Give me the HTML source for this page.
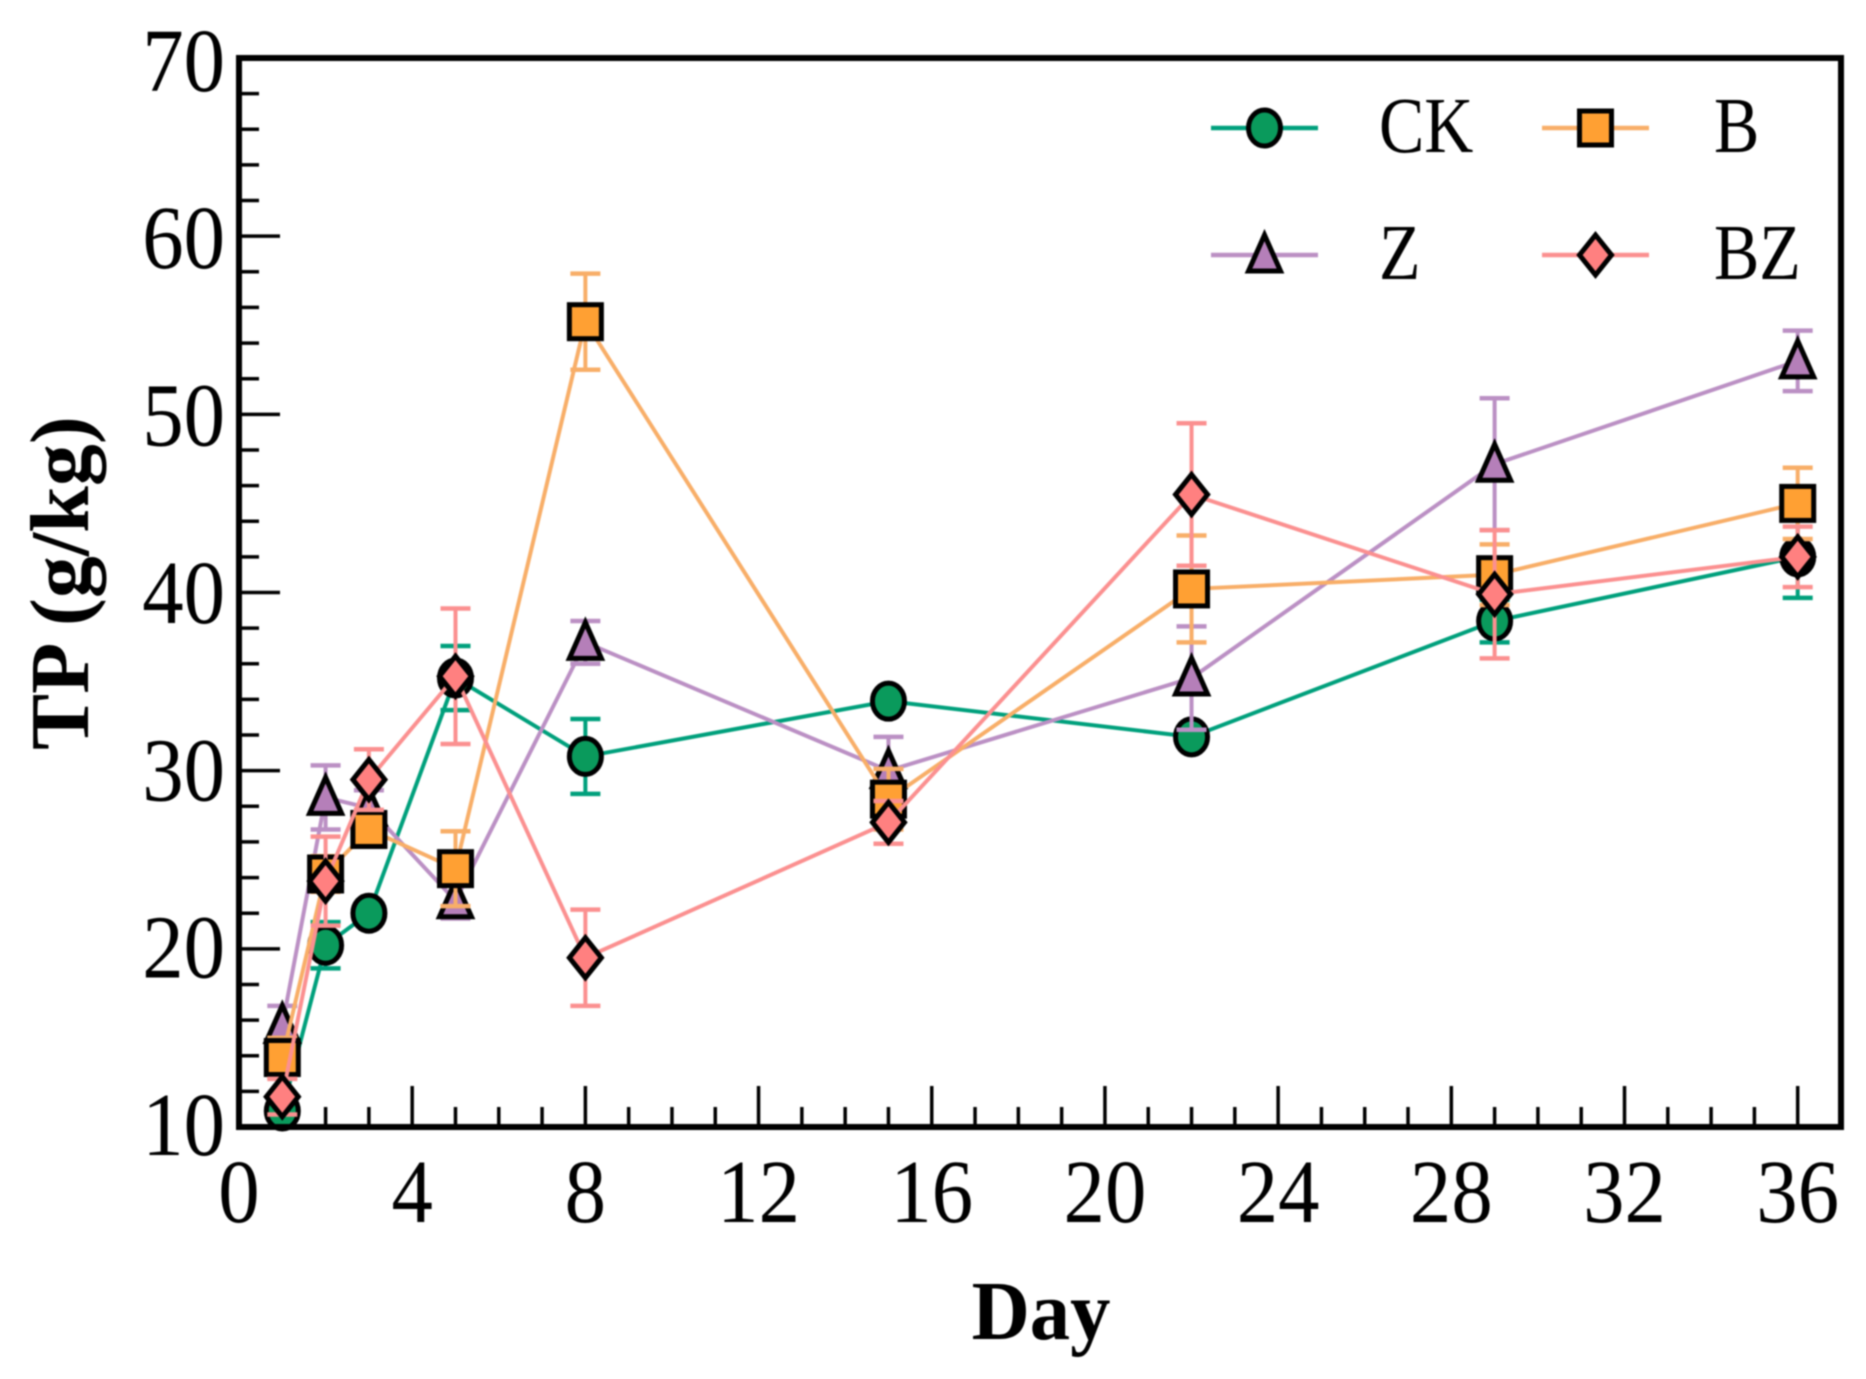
<!DOCTYPE html>
<html lang="en">
<head>
<meta charset="utf-8">
<title>TP (g/kg) by Day</title>
<style>
html,body{margin:0;padding:0;background:#fff;width:1866px;height:1379px;overflow:hidden}
svg{display:block;filter:blur(0.7px)}
text{font-family:"Liberation Serif",serif;fill:#000}
</style>
</head>
<body>
<svg id="chart" xmlns="http://www.w3.org/2000/svg" width="1866" height="1379" viewBox="0 0 1866 1379"></svg>
<script>
var days = [1, 2, 3, 5, 8, 15, 22, 29, 36];
var ckValues = [10.9, 20.2, 22.0, 35.2, 30.8, 33.9, 31.9, 38.4, 42.0];
var ckErrors = [0.5, 1.3, 0.3, 1.8, 2.1, 0.3, 0.4, 1.2, 2.3];
var bValues = [13.9, 24.2, 26.7, 24.5, 55.2, 28.4, 40.2, 41.0, 45.0];
var bErrors = [1.1, 1.0, 0.9, 2.1, 2.7, 1.7, 3.0, 1.7, 2.0];
var zValues = [15.7, 28.5, 27.9, 22.7, 37.2, 30.0, 35.2, 47.2, 53.0];
var zErrors = [1.1, 1.8, 1.0, 1.0, 1.2, 1.9, 2.9, 3.7, 1.7];
var bzValues = [11.7, 23.8, 29.5, 35.3, 19.5, 27.1, 45.5, 39.9, 42.0];
var bzErrors = [1.0, 2.5, 1.7, 3.8, 2.7, 1.2, 4.0, 3.6, 1.7];
var xTickLabels = [0, 4, 8, 12, 16, 20, 24, 28, 32, 36];
var xMinorTicks = [1, 2, 3, 5, 6, 7, 9, 10, 11, 13, 14, 15, 17, 18, 19, 21, 22, 23, 25, 26, 27, 29, 30, 31, 33, 34, 35];
var yTickLabels = [10, 20, 30, 40, 50, 60, 70];
var yMinorTicks = [12, 14, 16, 18, 22, 24, 26, 28, 32, 34, 36, 38, 42, 44, 46, 48, 52, 54, 56, 58, 62, 64, 66, 68];
var xDomain = [0, 37];
var yDomain = [10, 70];

var NS = 'http://www.w3.org/2000/svg';
var svg = document.getElementById('chart');
var plotLeft = 239, plotRight = 1841, plotTop = 58, plotBottom = 1127;

function xScale(v) {
  return plotLeft + (v - xDomain[0]) / (xDomain[1] - xDomain[0]) * (plotRight - plotLeft);
}
function yScale(v) {
  return plotBottom - (v - yDomain[0]) / (yDomain[1] - yDomain[0]) * (plotBottom - plotTop);
}
function make(tag, attrs, parent) {
  var el = document.createElementNS(NS, tag);
  for (var k in attrs) { el.setAttribute(k, attrs[k]); }
  (parent || svg).appendChild(el);
  return el;
}
function group(name) {
  var g = make('g', {});
  
  
  return g;
}
function label(parent, x, y, str, size, sx, anchor, weight) {
  var t = make('text', {
    transform: 'translate(' + x + ' ' + y + ') scale(' + sx + ' 1)',
    'font-size': size,
    'text-anchor': anchor,
    'font-weight': weight
  }, parent);
  t.textContent = str;
  return t;
}
function marker(parent, shape, cx, cy, fill) {
  var sw = 5;
  if (shape === 'circle') {
    return make('ellipse', {cx: cx, cy: cy, rx: 16, ry: 18, fill: fill, stroke: '#000', 'stroke-width': sw}, parent);
  }
  if (shape === 'square') {
    return make('rect', {x: cx - 16, y: cy - 17, width: 32, height: 34, fill: fill, stroke: '#000', 'stroke-width': sw}, parent);
  }
  if (shape === 'triangle') {
    return make('polygon', {points: (cx) + ',' + (cy - 20) + ' ' + (cx + 16) + ',' + (cy + 16) + ' ' + (cx - 16) + ',' + (cy + 16), fill: fill, stroke: '#000', 'stroke-width': sw, 'stroke-linejoin': 'miter'}, parent);
  }
  return make('polygon', {points: cx + ',' + (cy - 20) + ' ' + (cx + 16) + ',' + cy + ' ' + cx + ',' + (cy + 20) + ' ' + (cx - 16) + ',' + cy, fill: fill, stroke: '#000', 'stroke-width': sw}, parent);
}
function drawSeries(name, values, errors, shape, lineColor, fill) {
  var g = group('series-' + name);
  var pts = [];
  for (var i = 0; i < days.length; i++) { pts.push(xScale(days[i]) + ',' + yScale(values[i])); }
  make('polyline', {points: pts.join(' '), fill: 'none', stroke: lineColor, 'stroke-width': 4}, g);
  for (var j = 0; j < days.length; j++) {
    var x = xScale(days[j]);
    var hi = yScale(values[j] + errors[j]);
    var lo = yScale(values[j] - errors[j]);
    make('line', {x1: x, x2: x, y1: hi, y2: lo, stroke: lineColor, 'stroke-width': 4}, g);
    make('line', {x1: x - 15, x2: x + 15, y1: hi, y2: hi, stroke: lineColor, 'stroke-width': 4.5}, g);
    make('line', {x1: x - 15, x2: x + 15, y1: lo, y2: lo, stroke: lineColor, 'stroke-width': 4.5}, g);
  }
  for (var m = 0; m < days.length; m++) {
    marker(g, shape, xScale(days[m]), yScale(values[m]), fill);
  }
}

/* ticks */
var ticks = group('axis-ticks');
xTickLabels.forEach(function (v) {
  make('line', {x1: xScale(v), x2: xScale(v), y1: plotBottom, y2: plotBottom - 41, stroke: '#000', 'stroke-width': 3.5}, ticks);
});
xMinorTicks.forEach(function (v) {
  make('line', {x1: xScale(v), x2: xScale(v), y1: plotBottom, y2: plotBottom - 20, stroke: '#000', 'stroke-width': 3.5}, ticks);
});
yTickLabels.forEach(function (v) {
  make('line', {x1: plotLeft, x2: plotLeft + 41, y1: yScale(v), y2: yScale(v), stroke: '#000', 'stroke-width': 3.5}, ticks);
});
yMinorTicks.forEach(function (v) {
  make('line', {x1: plotLeft, x2: plotLeft + 20, y1: yScale(v), y2: yScale(v), stroke: '#000', 'stroke-width': 3.5}, ticks);
});

/* series */
drawSeries('ck', ckValues, ckErrors, 'circle', '#00a07c', '#0a9a5c');
drawSeries('z', zValues, zErrors, 'triangle', '#bb90c4', '#b57fb9');
drawSeries('b', bValues, bErrors, 'square', '#f8ae68', '#ffa033');
drawSeries('bz', bzValues, bzErrors, 'diamond', '#fb9090', '#ff8080');

/* frame */
var frame = make('rect', {x: plotLeft, y: plotTop, width: plotRight - plotLeft, height: plotBottom - plotTop, fill: 'none', stroke: '#000', 'stroke-width': 6});



/* tick labels */
var xLabels = group('x-tick-labels');
xTickLabels.forEach(function (v) {
  var t = label(xLabels, xScale(v), 1222, String(v), 90, 0.92, 'middle', 'normal');
  
  
});
var yLabels = group('y-tick-labels');
yTickLabels.forEach(function (v) {
  var t = label(yLabels, 225, yScale(v) + 28 + (v - 10) * 0.08, String(v), 90, 0.92, 'end', 'normal');
  
  
});

/* axis titles */
var xTitle = label(svg, 1041, 1339, 'Day', 84, 0.96, 'middle', 'bold');


var yTitle = make('text', {transform: 'translate(88 583) rotate(-90)', 'font-size': 84, 'text-anchor': 'middle', 'font-weight': 'bold'});
yTitle.textContent = 'TP (g/kg)';



/* legend */
var legendNames = ['CK', 'B', 'Z', 'BZ'];
var legendShapes = ['circle', 'square', 'triangle', 'diamond'];
var legendLines = ['#00a07c', '#f8ae68', '#bb90c4', '#fb9090'];
var legendFills = ['#0a9a5c', '#ffa033', '#b57fb9', '#ff8080'];
var legend = group('legend');
legendNames.forEach(function (name, i) {
  var col = i % 2, row = Math.floor(i / 2);
  var lx = col === 0 ? 1211 : 1542;
  var ly = row === 0 ? 128 : 255;
  var tx = col === 0 ? 1379 : 1714;
  var g = make('g', {}, legend);
  
  
  make('line', {x1: lx, x2: lx + 107, y1: ly, y2: ly, stroke: legendLines[i], 'stroke-width': 4.5}, g);
  marker(g, legendShapes[i], lx + 53.5, ly, legendFills[i]);
  label(g, tx, ly + 24, name, 79, 0.86, 'start', 'normal');
});
</script>
</body>
</html>
